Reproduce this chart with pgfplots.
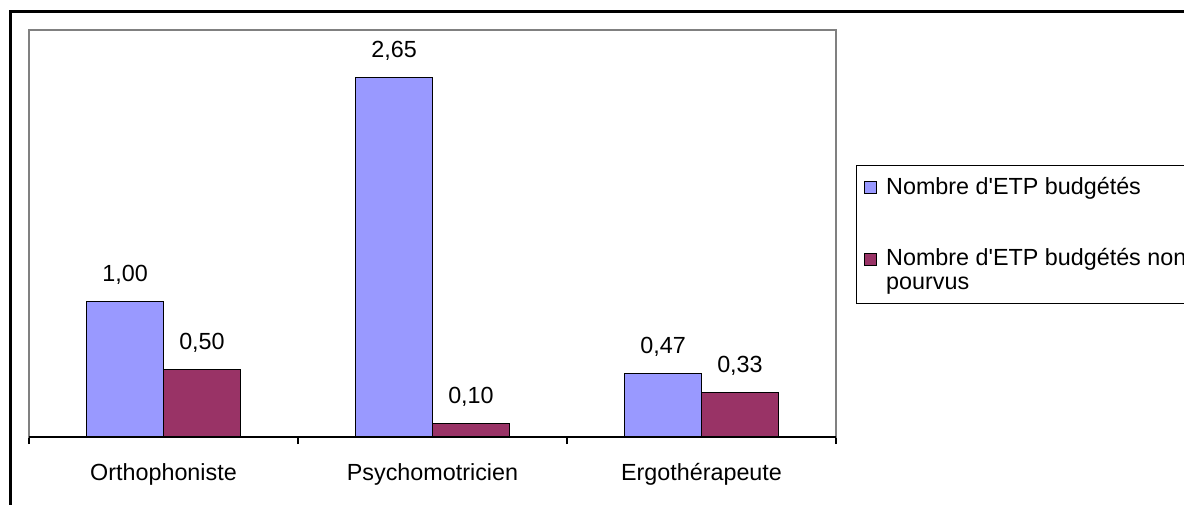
\documentclass[border=0pt]{standalone}
\usepackage{fontspec}
\setmainfont{Liberation Sans}[Ligatures=TeXOff]
\usepackage{pgfplots}
\pgfplotsset{compat=1.18}
\definecolor{barblue}{HTML}{9999FF}
\definecolor{barred}{HTML}{993366}
\newcommand{\chartfont}{\fontsize{17.5pt}{17.4pt}\selectfont}

\begin{document}
\begin{tikzpicture}
\begin{axis}[
    at={(21.75pt,50.25pt)}, anchor=south west,
    scale only axis, width=605.25pt, height=305.25pt,
    xmin=-0.5, xmax=2.5, ymin=0, ymax=3,
    xtick={0,1,2},
    xticklabels={Orthophoniste,Psychomotricien,Ergothérapeute},
    minor xtick={-0.5,0.5,1.5,2.5},
    ytick=\empty,
    major tick length=0pt,
    minor tick length=5.25pt,
    tick align=outside,
    xtick pos=bottom,
    minor tick style={black, line width=0.9pt},
    axis line style={draw=gray, line width=1.5pt},
    xticklabel style={anchor=base, yshift=-32.25pt, font=\chartfont},
    /pgf/number format/assume math mode=true,
    ybar, bar width=0.286,
    nodes near coords={\pgfmathprintnumber[fixed,fixed zerofill,precision=2,use comma]{\pgfplotspointmeta}},
    every node near coord/.append style={font=\chartfont, yshift=9pt, black},
    legend style={at={(1.0248,0.6683)}, anchor=north west, draw=black,
        line width=0.75pt, font=\chartfont, row sep=4.3pt, inner ysep=0pt,
        cells={anchor=base west}},
    legend image code/.code={
        \draw[#1, draw=black, line width=0.75pt] (0pt,0.3pt) rectangle (9pt,9.3pt);
        \path (-2.5pt,21pt) (14pt,-27.9pt);},
]
\addplot[fill=barblue, draw=black, line width=0.75pt, bar shift=-0.143]
    coordinates {(0,1.00) (1,2.65) (2,0.47)};
\addplot[fill=barred, draw=black, line width=0.75pt, bar shift=0.143]
    coordinates {(0,0.50) (1,0.10) (2,0.33)};
\legend{Nombre d'ETP budgétés,
    \vtop{\hbox{Nombre d'ETP budgétés non\hspace{12pt}}\hbox{pourvus}}}
\draw[black, line width=1.1pt] (rel axis cs:0,0) -- (rel axis cs:1,0);
\end{axis}
\draw[line width=2.25pt] (7.9pt,-3pt) -- (7.9pt,369pt) -- (892pt,369pt);
\pgfresetboundingbox
\useasboundingbox (0,0) rectangle (888pt,378pt);
\end{tikzpicture}
\end{document}
